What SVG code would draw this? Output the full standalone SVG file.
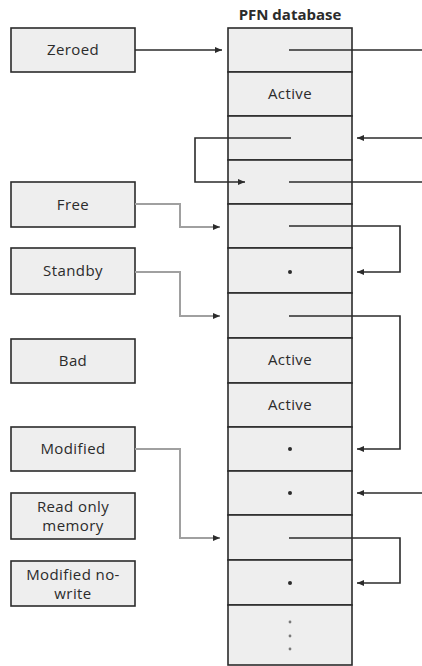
<svg xmlns="http://www.w3.org/2000/svg" width="422" height="666" viewBox="0 0 422 666">
<style>
.box{fill:#eeeeee;stroke:#2b2b2b;stroke-width:1.6}
.lbl{font-family:"Open Sans",sans-serif;font-size:15px;fill:#2b2b2b;text-anchor:middle;letter-spacing:0.4px}
.title{font-family:"Open Sans",sans-serif;font-size:15px;font-weight:bold;fill:#2b2b2b;text-anchor:middle}
.dk{fill:none;stroke:#2b2b2b;stroke-width:1.6}
.gr{fill:none;stroke:#a0a0a0;stroke-width:2}
.dot{fill:#2b2b2b}
</style>
<defs>
<marker id="ah" markerUnits="userSpaceOnUse" markerWidth="8" markerHeight="6" refX="7" refY="3" orient="auto">
<path d="M0,0 L7,3 L0,6 z" fill="#2b2b2b"/>
</marker>
</defs>
<text class="title" x="290" y="20">PFN database</text>
<g id="zeroed"><rect class="box" x="11" y="28" width="124" height="44"/><text class="lbl" x="73" y="55">Zeroed</text></g>
<g id="free"><rect class="box" x="11" y="182" width="124" height="45"/><text class="lbl" x="73" y="210">Free</text></g>
<g id="standby"><rect class="box" x="11" y="248" width="124" height="46"/><text class="lbl" x="73" y="276">Standby</text></g>
<g id="bad"><rect class="box" x="11" y="339" width="124" height="44"/><text class="lbl" x="73" y="366">Bad</text></g>
<g id="modified"><rect class="box" x="11" y="427" width="124" height="44"/><text class="lbl" x="73" y="454">Modified</text></g>
<g id="rom"><rect class="box" x="11" y="493" width="124" height="46"/><text class="lbl" x="73" y="512">Read only</text><text class="lbl" x="73" y="531">memory</text></g>
<g id="mnw"><rect class="box" x="11" y="561" width="124" height="45"/><text class="lbl" x="73" y="580">Modified no-</text><text class="lbl" x="73" y="599">write</text></g>
<g id="pfn0"><rect class="box" x="228" y="28" width="124" height="44"/></g>
<g id="pfn1"><rect class="box" x="228" y="72" width="124" height="44"/><text class="lbl" x="290" y="99">Active</text></g>
<g id="pfn2"><rect class="box" x="228" y="116" width="124" height="44"/></g>
<g id="pfn3"><rect class="box" x="228" y="160" width="124" height="44"/></g>
<g id="pfn4"><rect class="box" x="228" y="204" width="124" height="44"/></g>
<g id="pfn5"><rect class="box" x="228" y="248" width="124" height="45"/><circle class="dot" cx="290" cy="272" r="2"/></g>
<g id="pfn6"><rect class="box" x="228" y="293" width="124" height="45"/></g>
<g id="pfn7"><rect class="box" x="228" y="338" width="124" height="45"/><text class="lbl" x="290" y="365">Active</text></g>
<g id="pfn8"><rect class="box" x="228" y="383" width="124" height="44"/><text class="lbl" x="290" y="410">Active</text></g>
<g id="pfn9"><rect class="box" x="228" y="427" width="124" height="44"/><circle class="dot" cx="290" cy="449" r="2"/></g>
<g id="pfn10"><rect class="box" x="228" y="471" width="124" height="44"/><circle class="dot" cx="290" cy="493" r="2"/></g>
<g id="pfn11"><rect class="box" x="228" y="515" width="124" height="45"/></g>
<g id="pfn12"><rect class="box" x="228" y="560" width="124" height="45"/><circle class="dot" cx="290" cy="583" r="2"/></g>
<g id="pfn13"><rect class="box" x="228" y="605" width="124" height="60"/><circle class="dot" cx="290" cy="622" r="1.4" fill-opacity="0.6"/><circle class="dot" cx="290" cy="636" r="1.4" fill-opacity="0.6"/><circle class="dot" cx="290" cy="649" r="1.4" fill-opacity="0.6"/></g>
<g id="connectors">
<path class="dk" d="M135,50 H222" marker-end="url(#ah)"/>
<path class="gr" d="M135,204 H180 V227 H220" marker-end="url(#ah)"/>
<path class="gr" d="M135,272 H180 V316 H220" marker-end="url(#ah)"/>
<path class="gr" d="M135,449 H180 V538 H220" marker-end="url(#ah)"/>
<path class="dk" d="M289,50 H422"/>
<path class="dk" d="M291,138 H195 V182 H245" marker-end="url(#ah)"/>
<path class="dk" d="M422,138 H357" marker-end="url(#ah)"/>
<path class="dk" d="M289,182 H422"/>
<path class="dk" d="M289,226 H400 V272 H357" marker-end="url(#ah)"/>
<path class="dk" d="M289,316 H400 V449 H357" marker-end="url(#ah)"/>
<path class="dk" d="M422,493 H357" marker-end="url(#ah)"/>
<path class="dk" d="M289,538 H400 V583 H357" marker-end="url(#ah)"/>
</g>
</svg>
